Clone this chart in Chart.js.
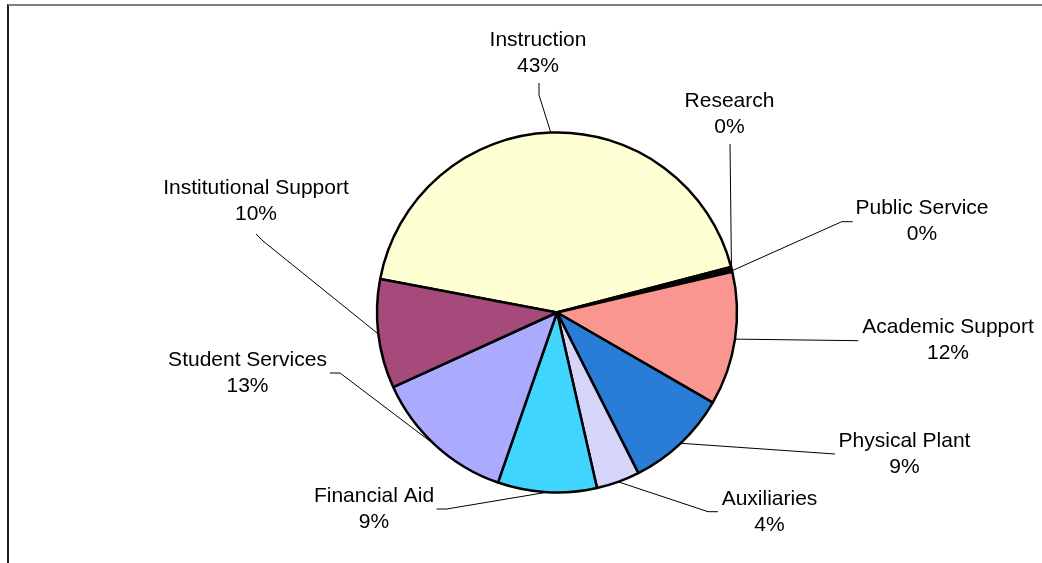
<!DOCTYPE html>
<html>
<head>
<meta charset="utf-8">
<title>Budget by Program</title>
<script src="https://cdn.jsdelivr.net/npm/chart.js@4/dist/chart.umd.min.js"></script>
<style>
	html, body {
		margin: 0;
		padding: 0;
		background: #ffffff;
	}

	#wrap {
		position: relative;
		width: 1042px;
		height: 563px;
		overflow: hidden;
	}

	#frame {
		position: absolute;
		left: 7px;
		top: 4px;
		right: -4px;
		bottom: -4px;
		border-top: 2px solid #808080;
		border-left: 2px solid #1a1a1a;
		pointer-events: none;
	}
</style>
</head>
<body>
<div id="wrap">
	<canvas id="chart" width="1042" height="563"></canvas>
	<div id="frame"></div>
</div>
<script>
// Programs, clockwise from the left edge of Instruction
const programs = [
	"Instruction",
	"Research",
	"Public Service",
	"Academic Support",
	"Physical Plant",
	"Auxiliaries",
	"Financial Aid",
	"Student Services",
	"Institutional Support"
]

// Share of spending, percent
const shares = [43.0, 0.25, 0.2, 12.0, 9.2, 3.9, 8.9, 12.9, 9.8]

const slice_colors = [
	"#ffffd4",
	"#660066",
	"#ff8080",
	"#fa9690",
	"#2a7dd6",
	"#d5d5fa",
	"#40d5ff",
	"#aaaaff",
	"#a54a7b"
]

/**
 * Label placement, relative to the pie centre
 * text: centre x and first baseline, leader: points from label to arc
 */
const label_layout = [
	{ text: [-19, -266.5], leader: [[-18, -229.5], [-18, -217.5]] },
	{ text: [172.5, -205.5], leader: [[173, -168.5]] },
	{ text: [365, -98.5], leader: [[295.7, -90.8], [284.7, -90.8]] },
	{ text: [391, 20.5], leader: [[301.3, 28.2]] },
	{ text: [347.5, 134], leader: [[278, 141.5]] },
	{ text: [212.5, 192.5], leader: [[161, 199.2], [151, 199.2]] },
	{ text: [-183, 189], leader: [[-120.3, 196.5], [-110.3, 196.5]] },
	{ text: [-309.5, 53.5], leader: [[-227, 60.5], [-217, 60.5]] },
	{ text: [-301, -118.5], leader: [[-301, -78.5], [-294, -71.5]] }
]

const label_font = "21px 'Liberation Sans', Arial, sans-serif"
const line_height = 26

const total = shares.reduce((sum, v) => sum + v, 0)

// Draw outside labels with leader lines
const outside_labels = {
	id: "outside_labels",
	afterDatasetsDraw(chart) {
		const ctx = chart.ctx
		const meta = chart.getDatasetMeta(0)

		ctx.save()

		meta.data.forEach((arc, i) => {
			const layout = label_layout[i]
			const cx = arc.x
			const cy = arc.y
			const mid = (arc.startAngle + arc.endAngle) / 2
			const r = arc.outerRadius

			// Leader line
			ctx.beginPath()
			ctx.strokeStyle = "#000000"
			ctx.lineWidth = 1
			layout.leader.forEach((p, k) => {
				if (k === 0) {
					ctx.moveTo(cx + p[0], cy + p[1])
				} else {
					ctx.lineTo(cx + p[0], cy + p[1])
				}
			})
			ctx.lineTo(cx + r * Math.cos(mid), cy + r * Math.sin(mid))
			ctx.stroke()

			// Text
			const pct = Math.round(shares[i] / total * 100) + "%"
			ctx.fillStyle = "#000000"
			ctx.font = label_font
			ctx.textAlign = "center"
			ctx.textBaseline = "alphabetic"
			ctx.fillText(programs[i], cx + layout.text[0], cy + layout.text[1])
			ctx.fillText(pct, cx + layout.text[0], cy + layout.text[1] + line_height)
		})

		ctx.restore()
	}
}

new Chart(document.getElementById("chart"), {
	type: "pie",
	data: {
		labels: programs,
		datasets: [{
			data: shares,
			backgroundColor: slice_colors,
			borderColor: "#000000",
			borderWidth: 2.5
		}]
	},
	options: {
		responsive: false,
		animation: false,
		rotation: 280.75,
		radius: 180,
		layout: {
			padding: { left: 72, right: 0, top: 62, bottom: 0 }
		},
		plugins: {
			legend: { display: false },
			tooltip: { enabled: false }
		}
	},
	plugins: [outside_labels]
})
</script>
</body>
</html>
